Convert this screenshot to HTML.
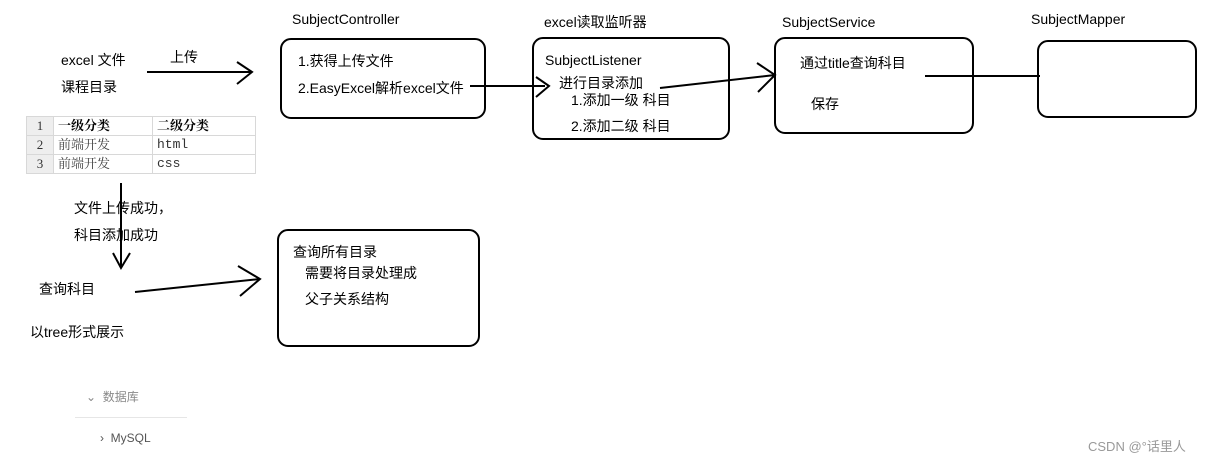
<!DOCTYPE html>
<html><head><meta charset="utf-8"><style>
body{margin:0;width:1217px;height:465px;background:#fff;position:relative;overflow:hidden;font-family:"Liberation Sans","Noto Sans CJK SC",sans-serif;color:#000}
.t{position:absolute;font-size:14px;white-space:nowrap;line-height:16px}
svg{position:absolute;left:0;top:0}
table{position:absolute;left:26px;top:116px;border-collapse:collapse;font-family:"Liberation Serif","Noto Serif CJK SC",serif;font-size:13px}
td{border:1px solid #d8d8d8;height:18px;padding:0 4px;line-height:18px}
td.n{background:#eee;width:18px;text-align:center;color:#333}
</style></head><body>
<svg width="1217" height="465" fill="none" stroke="#000" stroke-width="2">
<rect x="281" y="39" width="204" height="79" rx="10"/>
<rect x="533" y="38" width="196" height="101" rx="10"/>
<rect x="775" y="38" width="198" height="95" rx="10"/>
<rect x="1038" y="41" width="158" height="76" rx="10"/>
<rect x="278" y="230" width="201" height="116" rx="10"/>
<path d="M147 72H252M237 62L252 72L237 84"/>
<path d="M470 86H545M536 77L549 86L536 97"/>
<path d="M660 88L775 75M757 63L775 75L758 92"/>
<path d="M925 76H1040"/>
<path d="M121 183V268M113 253L121 268L130 253"/>
<path d="M135 292L260 279M238 266L260 279L240 296"/>
</svg>
<table>
<tr><td class="n">1</td><td style="width:90px;font-weight:bold">一级分类</td><td style="width:94px;font-weight:bold">二级分类</td></tr>
<tr><td class="n">2</td><td style="color:#444">前端开发</td><td style="font-family:'Liberation Mono',monospace;color:#333">html</td></tr>
<tr><td class="n">3</td><td style="color:#444">前端开发</td><td style="font-family:'Liberation Mono',monospace;color:#333">css</td></tr>
</table>
<div class="t" style="left:61px;top:52px">excel 文件</div>
<div class="t" style="left:61px;top:79px">课程目录</div>
<div class="t" style="left:170px;top:49px">上传</div>
<div class="t" style="left:292px;top:11px">SubjectController</div>
<div class="t" style="left:544px;top:14px">excel读取监听器</div>
<div class="t" style="left:782px;top:14px">SubjectService</div>
<div class="t" style="left:1031px;top:11px">SubjectMapper</div>
<div class="t" style="left:298px;top:53px">1.获得上传文件</div>
<div class="t" style="left:298px;top:80px">2.EasyExcel解析excel文件</div>
<div class="t" style="left:545px;top:52px">SubjectListener</div>
<div class="t" style="left:559px;top:75px">进行目录添加</div>
<div class="t" style="left:571px;top:92px">1.添加一级 科目</div>
<div class="t" style="left:571px;top:118px">2.添加二级 科目</div>
<div class="t" style="left:800px;top:55px">通过title查询科目</div>
<div class="t" style="left:811px;top:96px">保存</div>
<div class="t" style="left:74px;top:200px">文件上传成功，</div>
<div class="t" style="left:74px;top:227px">科目添加成功</div>
<div class="t" style="left:39px;top:281px">查询科目</div>
<div class="t" style="left:30px;top:324px">以tree形式展示</div>
<div class="t" style="left:293px;top:244px">查询所有目录</div>
<div class="t" style="left:305px;top:265px">需要将目录处理成</div>
<div class="t" style="left:305px;top:291px">父子关系结构</div>
<div class="t" style="left:86px;top:389px;font-size:12px;color:#888">⌄&nbsp; 数据库</div>
<div style="position:absolute;left:75px;top:417px;width:112px;height:1px;background:#e6e6e6"></div>
<div class="t" style="left:100px;top:430px;font-size:12px;color:#555">›&nbsp; MySQL</div>
<div class="t" style="left:1088px;top:439px;font-size:13px;color:#999">CSDN @°话里人</div>
</body></html>
